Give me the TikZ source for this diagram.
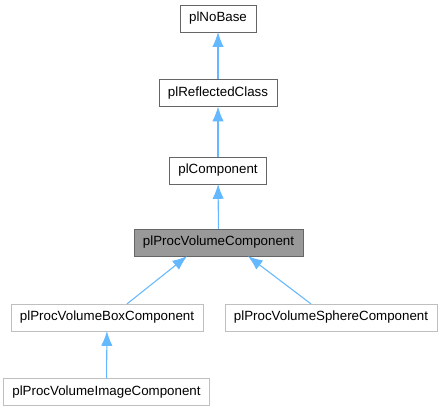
\documentclass[tikz,border=0pt]{standalone}
\usepackage{fontspec}
\setmainfont{Liberation Sans}
\usetikzlibrary{arrows.meta}
\definecolor{edgeblue}{HTML}{63B8FF}
\definecolor{boxgrey}{HTML}{666666}
\definecolor{lightgrey}{HTML}{BFBFBF}
\definecolor{mainfill}{HTML}{999999}
\tikzset{
  cls/.style={draw=boxgrey, fill=white, rectangle, inner xsep=6.8pt,
    minimum height=20pt, font=\fontsize{10pt}{12pt}\selectfont},
  leaf/.style={cls, draw=lightgrey},
  inherit/.style={draw=edgeblue, line width=0.8pt,
    {Latex[length=11pt,width=8.5pt]}-}
}
\begin{document}
\begin{tikzpicture}[x=0.75pt, y=-0.75pt]
        \useasboundingbox (0,0) rectangle (441,411);
        \node[cls] (nb) at (218,18.5) {plNoBase};
        \node[cls] (rc) at (218,93) {plReflectedClass};
        \node[cls] (c) at (218,170.5) {plComponent};
        \node[cls, fill=mainfill] (pv) at (218.5,242.5) {plProcVolumeComponent};
        \node[leaf] (box) at (107,317.5) {plProcVolumeBoxComponent};
        \node[leaf] (sph) at (331,317.5) {plProcVolumeSphereComponent};
        \node[leaf] (img) at (106.5,392) {plProcVolumeImageComponent};

        \draw[inherit] (nb) -- (rc);
        \draw[inherit] (rc) -- (c);
        \draw[inherit] (c) -- (pv);
        \draw[inherit] ([xshift=-23.6pt]pv.south) -- ([xshift=15pt]box.north);
        \draw[inherit] ([xshift=22.1pt]pv.south) -- ([xshift=-15pt]sph.north);
        \draw[inherit] (box) -- (img);
    \end{tikzpicture}
\end{document}
